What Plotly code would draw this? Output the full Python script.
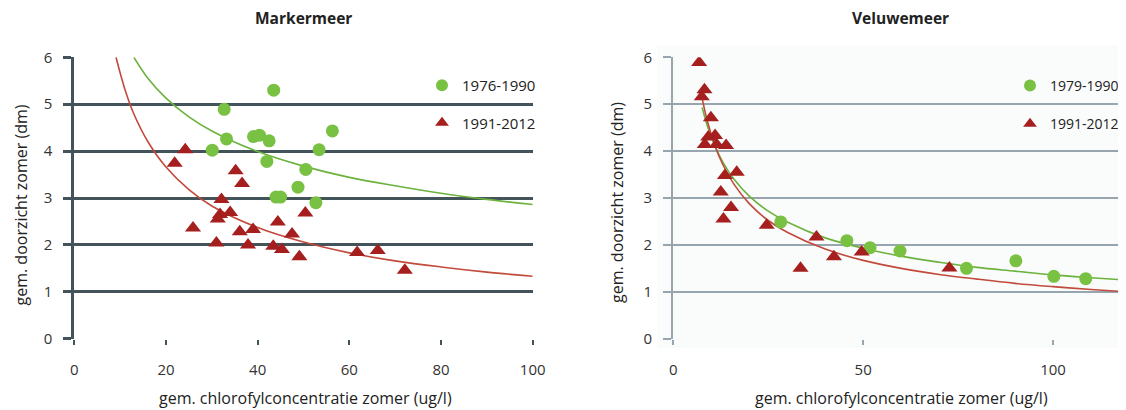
import plotly.graph_objects as go

# ---------------- data ----------------
# Markermeer
mm_green_x = [43.5, 32.7, 33.2, 30.1, 39.1, 40.4, 42.5, 42.0, 56.3, 53.4, 50.5, 48.8, 44.0, 45.0, 52.7]
mm_green_y = [5.30, 4.89, 4.26, 4.02, 4.31, 4.34, 4.22, 3.78, 4.43, 4.03, 3.61, 3.23, 3.02, 3.02, 2.90]
mm_red_x = [21.9, 24.2, 35.2, 36.6, 32.1, 31.8, 31.3, 34.0, 25.9, 31.0, 36.1, 39.0, 37.9, 44.4,
            47.5, 43.4, 45.3, 49.1, 50.4, 61.7, 66.2, 72.1]
mm_red_y = [3.74, 4.03, 3.58, 3.31, 2.97, 2.65, 2.55, 2.69, 2.36, 2.04, 2.28, 2.33, 2.00, 2.49,
            2.23, 1.97, 1.90, 1.75, 2.68, 1.84, 1.88, 1.46]
# trend lines
mm_green_curve_x = [13.0, 16, 20, 25, 30, 40, 50, 60, 70, 80, 90, 100]
mm_green_curve_y = [6.00, 5.56, 5.13, 4.73, 4.43, 3.99, 3.68, 3.44, 3.26, 3.10, 2.97, 2.86]
mm_red_curve_x = [9.1, 11, 13, 16, 20, 25, 30, 40, 50, 60, 70, 80, 90, 100]
mm_red_curve_y = [6.00, 5.33, 4.79, 4.21, 3.66, 3.18, 2.83, 2.37, 2.06, 1.83, 1.66, 1.53, 1.42, 1.33]

# Veluwemeer
vm_green_x = [28.3, 45.7, 51.8, 59.7, 77.2, 90.2, 100.2, 108.6]
vm_green_y = [2.49, 2.09, 1.94, 1.87, 1.50, 1.66, 1.33, 1.28]
vm_red_x = [6.8, 8.2, 7.5, 9.9, 11.0, 9.2, 8.3, 11.4, 13.9, 16.7, 13.6, 12.5, 15.2, 13.2,
            24.6, 37.7, 42.3, 49.6, 33.5, 72.7]
vm_red_y = [5.89, 5.31, 5.16, 4.71, 4.33, 4.30, 4.14, 4.14, 4.12, 3.55, 3.48, 3.13, 2.80, 2.55,
            2.42, 2.17, 1.75, 1.85, 1.50, 1.51]
vm_green_curve_x = [7.6, 9, 11, 13, 16, 20, 25, 30, 40, 50, 60, 70, 80, 90, 100, 110, 119.2]
vm_green_curve_y = [4.93, 4.53, 4.10, 3.77, 3.40, 3.04, 2.72, 2.49, 2.15, 1.93, 1.76, 1.63, 1.52, 1.44, 1.36, 1.30, 1.25]
vm_red_curve_x = [7.2, 9, 11, 13, 16, 20, 25, 30, 40, 50, 60, 70, 80, 90, 100, 110, 119.2]
vm_red_curve_y = [5.28, 4.63, 4.11, 3.72, 3.29, 2.88, 2.52, 2.27, 1.91, 1.67, 1.50, 1.37, 1.27, 1.18, 1.11, 1.05, 1.00]

y_ticks = [0, 1, 2, 3, 4, 5, 6]
mm_x_ticks = [0, 20, 40, 60, 80, 100]
vm_x_ticks = [0, 50, 100]

titles = ["Markermeer", "Veluwemeer"]
x_title = "gem. chlorofylconcentratie zomer (ug/l)"
y_title = "gem. doorzicht zomer (dm)"
mm_labels = ["1976-1990", "1991-2012"]
vm_labels = ["1979-1990", "1991-2012"]

# ---------------- styling ----------------
FONT = "Open Sans"
GREEN = "#79c143"
RED = "#a51f1f"
GREEN_LINE = "#6cb23e"
RED_LINE = "#c24a3c"
GRID_L = "#43535a"
GRID_R = "#97a6ae"
OFF = 8  # page body margin
W, H = 1126 - OFF, 410 - OFF


def px_x(p):
    return (p - OFF) / W


def px_y(p):
    return 1 - (p - OFF) / H


fig = go.Figure()

# Markermeer traces
fig.add_trace(go.Scatter(x=mm_green_curve_x, y=mm_green_curve_y, mode="lines",
                         line=dict(color=GREEN_LINE, width=1.6, shape="spline"),
                         showlegend=False, hoverinfo="skip", xaxis="x", yaxis="y"))
fig.add_trace(go.Scatter(x=mm_red_curve_x, y=mm_red_curve_y, mode="lines",
                         line=dict(color=RED_LINE, width=1.6, shape="spline"),
                         showlegend=False, hoverinfo="skip", xaxis="x", yaxis="y"))
fig.add_trace(go.Scatter(x=mm_green_x, y=mm_green_y, mode="markers", name=mm_labels[0],
                         marker=dict(symbol="circle", size=13, color=GREEN),
                         legend="legend", legendgroup="a", xaxis="x", yaxis="y"))
fig.add_trace(go.Scatter(x=mm_red_x, y=mm_red_y, mode="markers", name=mm_labels[1],
                         marker=dict(symbol="triangle-up", size=14, color=RED),
                         legend="legend", legendgroup="b", xaxis="x", yaxis="y"))

# Veluwemeer traces
fig.add_trace(go.Scatter(x=vm_green_curve_x, y=vm_green_curve_y, mode="lines",
                         line=dict(color=GREEN_LINE, width=1.6, shape="spline"),
                         showlegend=False, hoverinfo="skip", xaxis="x2", yaxis="y2"))
fig.add_trace(go.Scatter(x=vm_red_curve_x, y=vm_red_curve_y, mode="lines",
                         line=dict(color=RED_LINE, width=1.6, shape="spline"),
                         showlegend=False, hoverinfo="skip", xaxis="x2", yaxis="y2"))
fig.add_trace(go.Scatter(x=vm_green_x, y=vm_green_y, mode="markers", name=vm_labels[0],
                         marker=dict(symbol="circle", size=13, color=GREEN),
                         legend="legend2", legendgroup="c", xaxis="x2", yaxis="y2"))
fig.add_trace(go.Scatter(x=vm_red_x, y=vm_red_y, mode="markers", name=vm_labels[1],
                         marker=dict(symbol="triangle-up", size=14, color=RED),
                         legend="legend2", legendgroup="d", xaxis="x2", yaxis="y2"))

ydom = [px_y(338.7), px_y(57.3)]
tickfont = dict(family=FONT, size=15, color="#333333")


def yaxis(color, width, anchor):
    return dict(range=[0, 6], tickvals=y_ticks, domain=ydom, anchor=anchor,
                showgrid=True, gridcolor=color, gridwidth=width, zeroline=False,
                showline=True, linecolor=color, linewidth=width,
                ticks="outside", ticklen=8, tickwidth=width, tickcolor=color,
                tickfont=tickfont, ticklabelstandoff=8)


def xaxis(rng, tv, dom, color, width, anchor):
    return dict(range=rng, tickvals=tv, domain=dom, anchor=anchor,
                showgrid=False, zeroline=False, showline=False,
                ticks="outside", ticklen=5, tickwidth=width, tickcolor=color,
                tickfont=tickfont, ticklabelstandoff=12)


legend_font = dict(family=FONT, size=15, color="#222222")
legend2_font = dict(family=FONT, size=14, color="#222222")
fig.update_layout(
    width=W, height=H,
    margin=dict(l=0, r=0, t=0, b=0, autoexpand=False),
    paper_bgcolor="white", plot_bgcolor="white",
    font=dict(family=FONT, size=14, color="#222222"),
    xaxis=xaxis([0, 100], mm_x_ticks, [px_x(74.3), px_x(532.7)], GRID_L, 2, "y"),
    yaxis=yaxis(GRID_L, 3, "x"),
    xaxis2=xaxis([0, 119.2], vm_x_ticks, [px_x(673.3), 1.0], GRID_R, 2, "y2"),
    yaxis2=yaxis(GRID_R, 2.2, "x2"),
    legend=dict(x=px_x(422), y=px_y(69), xanchor="left", yanchor="top",
                bgcolor="rgba(0,0,0,0)", font=legend_font,
                traceorder="grouped", tracegroupgap=15, itemsizing="constant"),
    legend2=dict(x=px_x(1010), y=px_y(70), xanchor="left", yanchor="top",
                 bgcolor="rgba(0,0,0,0)", font=legend2_font,
                 traceorder="grouped", tracegroupgap=17, itemsizing="constant"),
    showlegend=True,
    shapes=[dict(type="rect", xref="paper", yref="paper", layer="below",
                 x0=px_x(657), x1=1.0, y0=px_y(348), y1=px_y(45),
                 fillcolor="#fafbfb", line=dict(width=0))],
)

annotations = [
    dict(text="<b>%s</b>" % titles[0], x=px_x(303), y=px_y(18)),
    dict(text="<b>%s</b>" % titles[1], x=px_x(900), y=px_y(18)),
    dict(text=x_title, x=px_x(305), y=px_y(398)),
    dict(text=x_title, x=px_x(901), y=px_y(398)),
    dict(text=y_title, x=px_x(20.5), y=px_y(205), textangle=-90),
    dict(text=y_title, x=px_x(617), y=px_y(203), textangle=-90),
]
for a in annotations:
    a.update(xref="paper", yref="paper", xanchor="center", yanchor="middle", showarrow=False,
             font=dict(family=FONT, size=15.5 if "<b>" in a["text"] else 16, color="#222222"))
fig.update_layout(annotations=annotations)

fig.write_html("out.html")
